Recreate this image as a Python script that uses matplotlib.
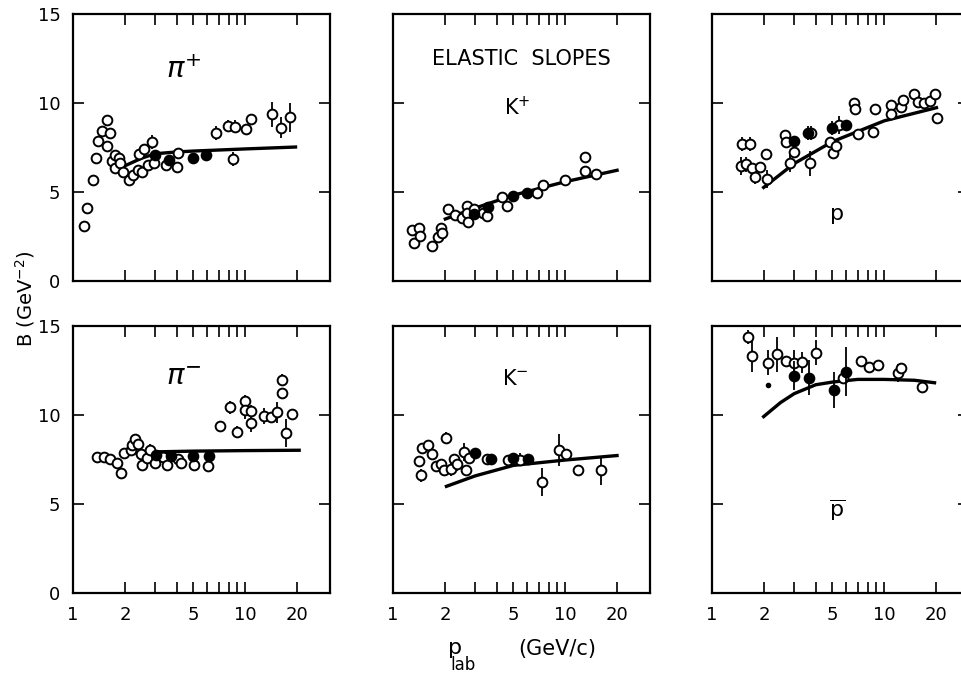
import numpy as np
import matplotlib
matplotlib.use('Agg')
import matplotlib.pyplot as plt

# data: (p_lab, B, error)
pip_open = [(1.16, 3.09, 0), (1.21, 4.08, 0), (1.30, 5.66, 0), (1.36, 6.91, 0), (1.40, 7.88, 0),
            (1.47, 8.43, 0), (1.57, 9.04, 0), (1.58, 7.60, 0), (1.64, 8.30, 0), (1.69, 6.76, 0),
            (1.76, 7.08, 0), (1.76, 6.33, 0), (1.85, 6.89, 0), (1.88, 6.61, 0), (1.96, 6.14, 0),
            (2.12, 5.67, 0), (2.24, 5.96, 0), (2.37, 6.24, 0), (2.42, 7.13, 0), (2.51, 6.14, 0),
            (2.59, 7.40, 0), (2.71, 6.52, 0), (2.87, 7.83, 0.4), (2.96, 6.65, 0), (3.46, 6.52, 0),
            (4.00, 6.42, 0), (4.05, 7.17, 0), (6.78, 8.30, 0.4), (7.9, 8.71, 0.35), (8.7, 8.67, 0.35),
            (8.46, 6.84, 0.4), (10.1, 8.52, 0.3), (10.8, 9.10, 0.3), (14.2, 9.36, 0.7),
            (16.2, 8.61, 0.6), (18.1, 9.19, 0.8)]
pip_full = [(3.0, 7.08, 0), (3.6, 6.8, 0), (4.96, 6.89, 0), (5.9, 7.08, 0)]
pip_curve_x = [1.98, 2.5, 3.0, 4.0, 5.0, 10.0, 20.0]
pip_curve_y = [6.45, 6.9, 7.15, 7.25, 7.3, 7.42, 7.53]

kp_open = [(1.29, 2.87, 0), (1.33, 2.15, 0), (1.42, 2.96, 0), (1.43, 2.55, 0), (1.69, 1.99, 0),
           (1.83, 2.45, 0), (1.90, 2.96, 0), (1.93, 2.72, 0), (2.09, 4.03, 0), (2.29, 3.71, 0),
           (2.50, 3.52, 0), (2.70, 4.21, 0), (2.70, 3.80, 0), (2.74, 3.33, 0), (2.97, 4.03, 0),
           (3.34, 3.80, 0), (3.52, 3.65, 0), (4.27, 4.74, 0), (4.61, 4.23, 0), (6.83, 4.96, 0),
           (7.40, 5.37, 0), (9.99, 5.67, 0), (13.0, 6.98, 0), (13.0, 6.20, 0), (15.1, 6.01, 0)]
kp_full = [(2.97, 3.75, 0), (3.57, 4.18, 0), (5.0, 4.78, 0), (6.0, 4.96, 0)]
kp_curve_x = [1.97, 3.0, 5.0, 10.0, 20.4]
kp_curve_y = [3.45, 4.1, 4.82, 5.58, 6.24]

p_open = [(1.50, 7.70, 0.4), (1.67, 7.70, 0.4), (1.48, 6.48, 0.5), (1.58, 6.55, 0.4),
          (1.71, 6.33, 0), (1.77, 5.86, 0.4), (1.89, 6.42, 0), (2.05, 7.13, 0), (2.08, 5.73, 0.5),
          (2.67, 8.20, 0.3), (2.70, 7.83, 0), (2.85, 6.61, 0.5), (2.98, 7.27, 0), (3.69, 6.61, 0.7),
          (3.77, 8.33, 0.4), (4.81, 7.83, 0), (5.03, 7.17, 0), (5.22, 7.60, 0.4), (5.46, 8.76, 0.5),
          (6.63, 9.98, 0), (6.72, 9.64, 0), (7.03, 8.24, 0), (8.6, 8.35, 0), (8.87, 9.64, 0),
          (10.9, 9.89, 0), (11.0, 9.36, 0), (12.5, 9.76, 0), (12.8, 10.17, 0), (14.9, 10.49, 0),
          (15.7, 10.07, 0), (16.9, 9.98, 0), (18.4, 10.13, 0), (19.6, 10.49, 0), (20.1, 9.14, 0)]
p_full = [(2.98, 7.88, 0), (3.61, 8.33, 0.4), (4.99, 8.58, 0.4), (6.02, 8.76, 0)]
p_curve_x = [1.96, 3.0, 5.0, 10.0, 20.5]
p_curve_y = [5.2, 6.6, 7.83, 9.0, 9.76]

pim_open = [(1.38, 7.64, 0), (1.51, 7.64, 0), (1.65, 7.55, 0), (1.81, 7.32, 0), (1.91, 6.76, 0),
            (1.97, 7.88, 0), (2.16, 8.01, 0), (2.20, 8.29, 0), (2.28, 8.66, 0), (2.38, 8.38, 0),
            (2.47, 7.79, 0), (2.51, 7.17, 0), (2.70, 7.60, 0), (2.78, 8.01, 0.35), (2.98, 7.30, 0),
            (3.33, 7.64, 0), (3.53, 7.17, 0), (4.07, 7.51, 0), (4.25, 7.30, 0), (5.04, 7.17, 0),
            (6.07, 7.14, 0), (7.1, 9.37, 0.3), (8.1, 10.43, 0.35), (8.94, 9.04, 0.35),
            (9.9, 10.81, 0.3), (9.9, 10.28, 0.5), (10.8, 10.21, 0.35), (10.8, 9.54, 0.5),
            (12.9, 9.97, 0.45), (14.1, 9.88, 0.3), (15.3, 10.15, 0.6), (16.3, 11.22, 0.3),
            (16.3, 11.98, 0.3), (17.3, 8.98, 0.8), (18.7, 10.06, 0.3)]
pim_full = [(3.02, 7.73, 0), (3.72, 7.69, 0), (4.98, 7.69, 0), (6.13, 7.69, 0)]
pim_curve_x = [2.0, 3.0, 5.0, 10.0, 21.0]
pim_curve_y = [7.85, 7.93, 7.97, 8.0, 8.02]

km_open = [(1.42, 7.42, 0), (1.45, 6.61, 0.35), (1.48, 8.16, 0), (1.59, 8.29, 0.3), (1.69, 7.79, 0),
           (1.77, 7.12, 0), (1.90, 7.27, 0), (1.98, 6.91, 0), (2.02, 8.72, 0.35), (2.17, 6.95, 0.35),
           (2.25, 7.51, 0), (2.36, 7.27, 0.4), (2.58, 7.92, 0.5), (2.66, 6.89, 0), (2.76, 7.57, 0),
           (3.51, 7.51, 0), (4.63, 7.49, 0), (5.47, 7.49, 0.35), (7.3, 6.24, 0.8), (9.2, 8.01, 0.9),
           (10.1, 7.79, 0), (11.9, 6.89, 0), (16.2, 6.89, 0.8)]
km_full = [(3.0, 7.84, 0), (3.71, 7.51, 0), (4.95, 7.60, 0), (6.04, 7.51, 0)]
km_curve_x = [2.0, 3.0, 5.0, 10.0, 20.4]
km_curve_y = [5.96, 6.58, 7.17, 7.47, 7.73]

pb_open = [(1.62, 14.39, 0.4), (1.70, 13.31, 0.9), (2.10, 12.94, 0.7), (2.37, 13.40, 1.0),
           (2.68, 13.03, 0.3), (3.0, 12.94, 0.7), (3.31, 12.96, 0.6), (4.04, 13.50, 0.7),
           (5.77, 12.07, 0), (7.35, 13.03, 0), (8.15, 12.72, 0), (9.18, 12.81, 0),
           (12.0, 12.34, 0.5), (12.5, 12.62, 0.3), (16.5, 11.57, 0.2)]
pb_full = [(2.98, 12.21, 0.8), (3.66, 12.10, 1.0), (5.09, 11.42, 1.0), (6.03, 12.44, 1.4)]
pb_dot = [(2.12, 11.66)]
pb_curve_x = [1.96, 2.5, 3.0, 4.0, 5.0, 7.0, 10.0, 15.0, 20.0]
pb_curve_y = [9.85, 10.7, 11.2, 11.7, 11.85, 12.0, 12.0, 11.95, 11.8]

panels = [
    (pip_open, pip_full, pip_curve_x, pip_curve_y),
    (kp_open, kp_full, kp_curve_x, kp_curve_y),
    (p_open, p_full, p_curve_x, p_curve_y),
    (pim_open, pim_full, pim_curve_x, pim_curve_y),
    (km_open, km_full, km_curve_x, km_curve_y),
    (pb_open, pb_full, pb_curve_x, pb_curve_y),
]

W, H = 962, 673
fig = plt.figure(figsize=(W / 100, H / 100), dpi=100)
lefts = [73, 393, 712]
tops = [14, 326]
pw, ph = 257, 267

xt = [1, 2, 3, 4, 5, 6, 7, 8, 9, 10, 20]
xtl = ['1', '2', '', '', '5', '', '', '', '', '10', '20']

axes = []
for i, (opn, full, cx, cy) in enumerate(panels):
    r, c = divmod(i, 3)
    ax = fig.add_axes([lefts[c] / W, 1 - (tops[r] + ph) / H, pw / W, ph / H])
    ax.set_xscale('log')
    ax.set_xlim(1, 31)
    ax.set_ylim(0, 15)
    ax.plot(cx, cy, color='black', lw=2.4, zorder=2, solid_capstyle='butt')
    o = np.array(opn)
    ax.errorbar(o[:, 0], o[:, 1], yerr=o[:, 2], fmt='o', ms=7, mfc='white', mec='black',
                mew=1.4, ecolor='black', elinewidth=1.3, capsize=0, zorder=3)
    f = np.array(full)
    ax.errorbar(f[:, 0], f[:, 1], yerr=f[:, 2], fmt='o', ms=7, mfc='black', mec='black',
                mew=1.4, ecolor='black', elinewidth=1.3, capsize=0, zorder=4)
    ax.xaxis.set_minor_locator(matplotlib.ticker.NullLocator())
    ax.set_xticks(xt)
    ax.set_yticks([0, 5, 10, 15])
    ax.tick_params(direction='in', length=8, width=1.2, top=True, right=True,
                   labelsize=13, pad=9)
    if r == 1:
        ax.set_xticklabels(xtl)
    else:
        ax.set_xticklabels([])
    if c == 0:
        ax.set_yticklabels(['0', '5', '10', '15'])
    else:
        ax.set_yticklabels([])
    for s in ax.spines.values():
        s.set_linewidth(1.6)
    axes.append(ax)

axes[5].plot([d[0] for d in pb_dot], [d[1] for d in pb_dot], 'o', ms=3, color='black')

axes[0].text(0.43, 0.79, r'$\pi^{+}$', transform=axes[0].transAxes, fontsize=21, ha='center', va='center')
axes[1].text(0.5, 0.83, 'ELASTIC  SLOPES', transform=axes[1].transAxes, fontsize=15, ha='center', va='center')
axes[1].text(0.484, 0.65, r'K$^{+}$', transform=axes[1].transAxes, fontsize=15, ha='center', va='center')
axes[2].text(0.486, 0.25, 'p', transform=axes[2].transAxes, fontsize=16, ha='center', va='center')
axes[3].text(0.43, 0.81, r'$\pi^{-}$', transform=axes[3].transAxes, fontsize=21, ha='center', va='center')
axes[4].text(0.477, 0.80, r'K$^{-}$', transform=axes[4].transAxes, fontsize=15, ha='center', va='center')
axes[5].text(0.486, 0.31, r'$\overline{\mathrm{p}}$', transform=axes[5].transAxes, fontsize=16, ha='center', va='center')

fig.text(0.026, 0.556, r'B (GeV$^{-2}$)', rotation=90, fontsize=14, ha='center', va='center')
fig.text(455 / W, 1 - 648 / H, 'p', fontsize=16, ha='center', va='center')
fig.text(463 / W, 1 - 665 / H, 'lab', fontsize=12, ha='center', va='center')
fig.text(557 / W, 1 - 649 / H, '(GeV/c)', fontsize=15, ha='center', va='center')

fig.savefig('out.png', dpi=100)
